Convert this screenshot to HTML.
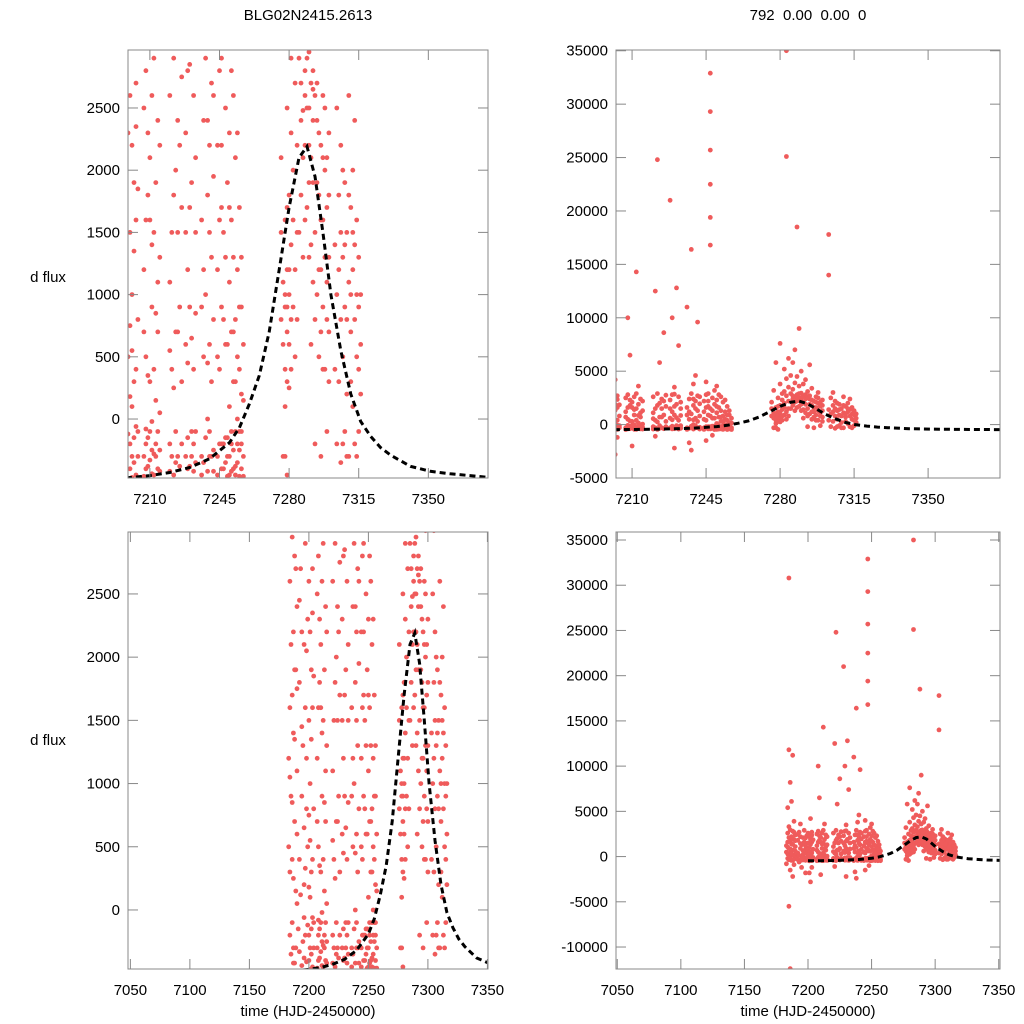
<!DOCTYPE html>
<html><head><meta charset="utf-8"><style>
html,body{margin:0;padding:0;background:#fff;overflow:hidden;width:1024px;height:1024px;}
svg{display:block;}
svg text{font-family:"Liberation Sans",Arial,sans-serif;font-size:15px;fill:#000;}
</style></head><body>
<svg id="chart" width="1024" height="1024" viewBox="0 0 1024 1024">
<text x="308" y="20" text-anchor="middle">BLG02N2415.2613</text>
<text x="808" y="20" text-anchor="middle" xml:space="preserve">792  0.00  0.00  0</text>
<text x="48" y="282" text-anchor="middle">d flux</text>
<text x="48" y="745" text-anchor="middle">d flux</text>
<text x="308" y="1016" text-anchor="middle">time (HJD-2450000)</text>
<text x="808" y="1016" text-anchor="middle">time (HJD-2450000)</text>
</svg>
<script>
// observations "time:flux"
const DATA = "7183:1200,7183:-800,7184:2600,7184:5400,7184:300,7185:30800,7185:-5500,7185:900,7185:11800,7185:3300,7186:-12400,7186:-1500,7186:1700,7186:8200,7186:400,7187:2200,7187:-300,7187:6100,7187:1400,7188:2800,7188:-2200,7188:700,7188:11200,7189:1900,7189:150,7189:3900,7189:-900,7190:600,7190:2400,7190:1100,7184:1600,7186:2950,7187:-420,7188:1900,7189:2700,7183:500,7185:2100,"+
"7192:400,7192:1800,7193:-600,7193:2700,7194:900,7194:3600,7195:-1200,7195:1300,7196:2100,7196:200,7197:-200,7197:2900,7197:1600,7198:800,7198:-1800,7199:2300,7199:500,7200:-400,7200:1500,7200:2600,7194:2200,7196:-380,7198:1200,"+
"7201:-300,7201:1000,7201:2200,7202:-2800,7202:300,7202:4200,7203:-450,7203:1600,7203:2700,7204:-100,7204:800,7201:-1800,7202:1900,7203:-1200,7200:-200,7201:100,7202:-350,7203:400,"+
"7207:2500,7207:-300,7207:1200,7208:10000,7208:500,7208:-400,7208:2800,7209:1800,7209:-150,7209:6500,7210:300,7210:2100,7210:-2000,7211:900,7211:2600,7211:-440,7212:14300,7212:1500,7212:400,7213:1900,7213:-300,7213:3600,7214:700,7214:2400,7214:-100,7215:1300,7215:-420,7210:1600,7212:2900,7215:2200,7209:-380,7211:-250,7213:150,7208:-200,"+
"7220:-200,7220:1100,7220:2600,7221:12500,7221:400,7221:-1100,7222:24800,7222:1800,7222:2900,7222:-450,7223:5800,7223:700,7223:2000,7224:-300,7224:1500,7224:2400,7225:900,7225:-380,7225:8600,7226:1700,7226:300,7226:2750,7221:-300,7223:-100,"+
"7228:21000,7228:600,7228:2300,7229:-400,7229:1200,7229:2800,7230:3500,7230:-2200,7230:900,7231:12800,7231:1900,7231:-100,7232:2600,7232:400,7232:7400,7233:1500,7233:-350,7233:2100,7230:2850,7229:10000,7231:-300,7232:-200,"+
"7236:11000,7236:-300,7236:1600,7237:2400,7237:500,7237:-1700,7238:16400,7238:1000,7238:2900,7239:-420,7239:1800,7239:3800,7240:600,7240:2200,7240:-100,7241:1300,7241:9600,7241:2700,7242:-250,7242:800,7242:1950,7238:-2400,7240:4600,7237:-350,7239:0,7241:-300,"+
"7244:-300,7244:1200,7244:2200,7245:400,7245:-1500,7245:2800,7246:1700,7246:-200,7246:900,7247:32900,7247:29300,7247:25700,7247:22500,7247:19400,7247:16800,7247:1500,7247:-400,7248:2500,7248:600,7248:-1000,7249:1900,7249:-300,7249:3200,7250:1100,7250:-450,7250:2300,7251:700,7251:-200,7251:1600,7252:300,7252:1300,7252:-400,7253:-100,7253:800,7253:2100,7254:-350,7254:500,7254:1200,7255:-250,7255:400,7255:1700,7256:-400,7256:200,7256:900,7257:-300,7257:600,7245:4000,7250:3600,7246:2900,7252:2600,7248:-350,7249:-150,7250:100,7251:-420,7253:-380,7254:0,7255:-100,7256:-200,"+
"7276:800,7276:1500,7276:2100,7277:600,7277:1100,7277:3200,7277:-300,7278:900,7278:1600,7278:400,7278:5800,7279:1200,7279:2500,7279:-450,7279:700,7280:1800,7280:3800,7280:1000,7280:7600,7281:2300,7281:400,7281:1400,7282:3100,7282:5200,7282:2000,7282:900,7283:35000,7283:25100,7283:2700,7283:4300,7283:1200,7284:3500,7284:6200,7284:2200,7284:800,7278:100,7280:250,7281:2900,7279:1700,7278:1000,7279:900,7280:600,"+
"7285:2900,7285:4600,7285:1500,7286:2400,7286:5800,7286:3300,7287:2100,7287:3900,7287:7000,7288:18500,7288:2800,7288:4500,7288:1600,7289:3600,7289:2500,7289:9000,7290:2200,7290:5000,7290:1300,7291:2700,7291:3800,7291:600,7292:1900,7292:4200,7292:2800,7293:1500,7293:3100,7293:-200,7294:2400,7294:1000,7294:5600,7295:1800,7295:3400,7295:500,7296:2200,7296:1200,7296:-300,7297:900,7297:2600,7297:1600,7298:2000,7298:400,7298:3000,7299:1100,7299:1700,7299:-100,7300:700,7300:2300,7300:1300,7290:2950,7292:2650,7287:2480,"+
"7303:17800,7303:14000,7303:1400,7303:400,7304:2500,7304:-200,7304:1000,7305:1800,7305:300,7305:3000,7306:800,7306:2200,7306:-350,7307:1300,7307:500,7308:1900,7308:-100,7308:900,7309:1500,7309:200,7310:1100,7310:2600,7310:-300,7311:700,7311:1700,7312:1200,7312:100,7312:2000,7313:800,7313:-200,7313:1400,7314:500,7314:1000,7315:900,7315:-100,7315:1300,7316:600,7316:200,"+
"7184:-200,7185:-350,7186:-100,7187:250,7188:-420,7189:-300,7190:50,7191:-150,7192:-330,7193:120,7194:-440,7195:-250,7196:-60,7197:330,7198:-410,7199:-120,7200:180,7184:1050,7186:850,7188:1350,7190:1750,7192:2450,7194:1450,7196:650,7198:2050,7200:750,"+
"7201:-470,7201:550,7202:-150,7202:1350,7203:-60,7203:2350,7204:-300,7204:1850,7207:-460,7207:700,7208:-80,7208:1600,7209:350,7209:2300,7210:-330,7210:-100,7211:-20,7211:1400,7212:-280,7212:-450,7213:-200,7213:850,7214:-400,7214:1100,7215:-250,7215:50,"+
"7220:-420,7220:550,7221:1500,7222:250,7223:-350,7224:700,7225:2200,7226:-200,7228:-300,7228:1500,7229:-150,7229:450,7230:-380,7230:1700,7231:650,7232:-420,7233:850,7233:-100,"+
"7236:-450,7236:900,7237:1200,7238:-150,7239:450,7239:2400,7240:-300,7240:1500,7241:300,7242:-420,7242:2600,7244:-450,7244:500,7245:-200,7245:1600,7246:-400,7246:2200,7247:-200,7247:800,7248:-150,7248:1300,7249:-460,7249:600,7250:-300,7250:1700,7251:-100,7251:2800,7252:-250,7252:700,7253:-450,7253:300,7254:-200,7254:2300,7255:-460,7255:900,7256:-100,7256:1300,7257:-460,7257:150,"+
"7278:-300,7279:300,7280:1200,7281:800,7282:1600,7283:500,7284:1500,7286:1800,7286:2700,7287:1300,7288:2200,7288:2600,7289:1700,7289:2900,7290:1900,7290:2500,7291:1400,7291:2100,7292:1100,7292:2400,7293:2600,7293:800,7294:1900,7294:2700,7295:1200,7295:2300,7296:1600,7296:700,7297:2100,7297:400,7298:1300,7298:2500,7299:800,7299:2100,7300:1800,7300:300,"+
"7305:1200,7306:1500,7307:2000,7307:-200,7308:1400,7309:800,7309:-300,7310:1800,7311:1000,7311:300,7312:1500,7313:2400,7314:-300,7314:1600,7315:400,7316:1000";
const modelT = [7195,7200,7210,7220,7230,7240,7250,7255,7260,7265,7270,7275,7280,7285,7289,7293,7297,7301,7306,7311,7316,7321,7326,7331,7341,7351,7361,7371,7386];
const modelF = [-475,-470,-455,-430,-390,-320,-190,-70,120,350,700,1200,1700,2100,2190,1950,1500,1000,550,200,-20,-140,-230,-290,-380,-420,-440,-455,-470];
const ticksLeftY = [0,500,1000,1500,2000,2500];
const ticksRightTopY = [-5000,0,5000,10000,15000,20000,25000,30000,35000];
const ticksRightBotY = [-10000,-5000,0,5000,10000,15000,20000,25000,30000,35000];
const ticksTopX = [7210,7245,7280,7315,7350];
const ticksBotX = [7050,7100,7150,7200,7250,7300,7350];

const pts = DATA.split(",").map(s=>s.split(":").map(Number));
const NS="http://www.w3.org/2000/svg";
const svg=document.getElementById("chart");
function mk(tag,attrs,parent){const e=document.createElementNS(NS,tag);for(const k in attrs)e.setAttribute(k,attrs[k]);(parent||svg).appendChild(e);return e;}

const panels=[
 {id:"top-left",x0:128,x1:488,y0:50,y1:478,tx:[7199,7380],ty:[-474,2966],xt:ticksTopX,yt:ticksLeftY,modelStart:7195},
 {id:"top-right",x0:616,x1:1000,y0:50,y1:478,tx:[7202.4,7384],ty:[-5000,35070],xt:ticksTopX,yt:ticksRightTopY,modelStart:7195},
 {id:"bottom-left",x0:128,x1:488,y0:532,y1:969,tx:[7048,7350.5],ty:[-467,2990],xt:ticksBotX,yt:ticksLeftY,modelStart:7195},
 {id:"bottom-right",x0:616,x1:1000,y0:532,y1:969,tx:[7049,7351],ty:[-12430,35885],xt:ticksBotX,yt:ticksRightBotY,modelStart:7200}
];
panels.forEach((p,i)=>{
 const sx=t=>p.x0+(t-p.tx[0])/(p.tx[1]-p.tx[0])*(p.x1-p.x0);
 const sy=f=>p.y1-(f-p.ty[0])/(p.ty[1]-p.ty[0])*(p.y1-p.y0);
 const g=mk("g",{});
 
 
 const cp=mk("clipPath",{id:"clip"+i},g);
 mk("rect",{x:p.x0,y:p.y0,width:p.x1-p.x0,height:p.y1-p.y0},cp);
 const dg=mk("g",{"clip-path":"url(#clip"+i+")"},g);
 
 
 pts.forEach(([t,f])=>{
  if(t<p.tx[0]-1||t>p.tx[1]+1||f<p.ty[0]-50||f>p.ty[1]+50)return;
  const c=mk("circle",{cx:sx(t).toFixed(1),cy:sy(f).toFixed(1),r:2.4,fill:"#ef5b5b"},dg);
  
  
 });
 let d="";
 modelT.forEach((t,j)=>{ if(t<p.modelStart)return; const x=Math.min(Math.max(sx(t),p.x0-2),p.x1+2); d+=(d?"L":"M")+x.toFixed(1)+","+sy(modelF[j]).toFixed(1);});
 const ml=mk("path",{d:d,fill:"none",stroke:"#000","stroke-width":3,"stroke-dasharray":"6,4"},dg);
 
 
 const fr=mk("rect",{x:p.x0,y:p.y0,width:p.x1-p.x0,height:p.y1-p.y0,fill:"none",stroke:"#888","stroke-width":1},g);
 
 
 p.xt.forEach(t=>{
  const x=sx(t);
  mk("line",{x1:x,x2:x,y1:p.y1,y2:p.y1-10,stroke:"#888"},g);
  mk("line",{x1:x,x2:x,y1:p.y0,y2:p.y0+10,stroke:"#888"},g);
  const tx=mk("text",{x:x,y:p.y1+26,"text-anchor":"middle"},g);
  tx.textContent=t;
  
  
 });
 p.yt.forEach(f=>{
  const y=sy(f);
  mk("line",{x1:p.x0,x2:p.x0+10,y1:y,y2:y,stroke:"#888"},g);
  mk("line",{x1:p.x1,x2:p.x1-10,y1:y,y2:y,stroke:"#888"},g);
  const ty=mk("text",{x:p.x0-8,y:y+5,"text-anchor":"end"},g);
  ty.textContent=f;
  
  
 });
});
</script>
</body></html>
